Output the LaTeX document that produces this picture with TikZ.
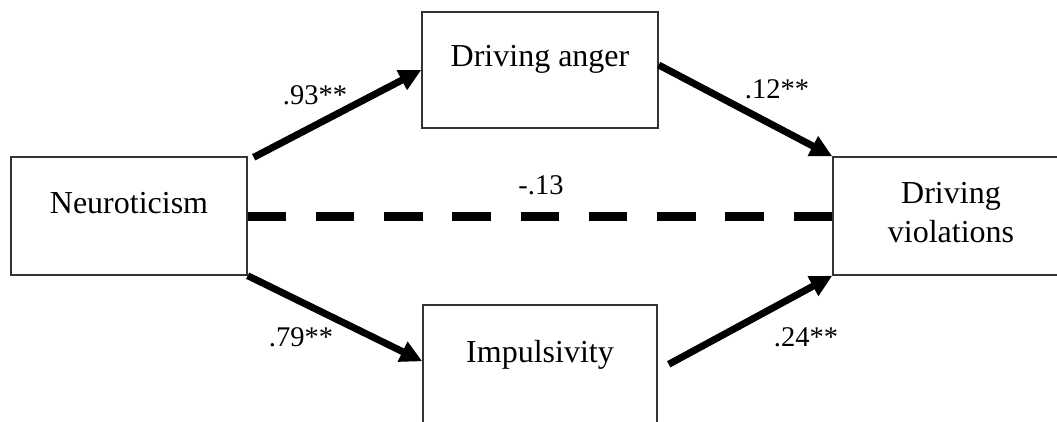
\documentclass[tikz,border=0pt]{standalone}
\usepackage{fontspec}
\setmainfont{Liberation Serif}
\usetikzlibrary{arrows.meta,calc}
\begin{document}
\begin{tikzpicture}[x=1pt,y=-1pt,
  box/.style={draw=black!80, line width=1.4pt, inner sep=0pt, anchor=base, font=\fontsize{32}{39}\selectfont},
  effect/.style={line width=7pt, -{Triangle[length=22pt,width=21pt]}},
  coef/.style={font=\fontsize{28.5}{34}\selectfont, anchor=base, inner sep=0pt},
]
\useasboundingbox (0,0) rectangle (1057,421);
\node[box, minimum width=236pt, text height=56pt, text depth=62pt] (neuro) at (129,213) {Neuroticism};
\node[box, minimum width=236pt, text height=54pt, text depth=62pt] (anger) at (540,66) {Driving anger};
\node[box, minimum width=234pt, text height=57pt, text depth=78pt] (imp) at (540,362) {Impulsivity};
\node[box, minimum width=236pt, text height=46pt, text depth=72pt] (viol) at (951,203) {\begin{tabular}[t]{@{}c@{}}Driving\\violations\end{tabular}};
\draw[effect] ($(neuro.north east)+(6,1)$) -- (anger.west);
\draw[effect] ($(anger.east)+(0,-5)$) -- (viol.north west);
\draw[effect] (neuro.south east) -- ($(imp.north west)+(0,57)$);
\draw[effect] ($(imp.north east)+(11,60)$) -- (viol.south west);
\draw[line width=9pt, dash pattern=on 38.5pt off 29.75pt] (neuro.east) -- (viol.west);
\node[coef] (c1) at (315,104) {.93**};
\node[coef] (c2) at (777,98) {.12**};
\node[coef] (c3) at (301,346) {.79**};
\node[coef] (c4) at (806,346) {.24**};
\node[coef] (c5) at (541,194) {-.13};
\end{tikzpicture}
\end{document}
